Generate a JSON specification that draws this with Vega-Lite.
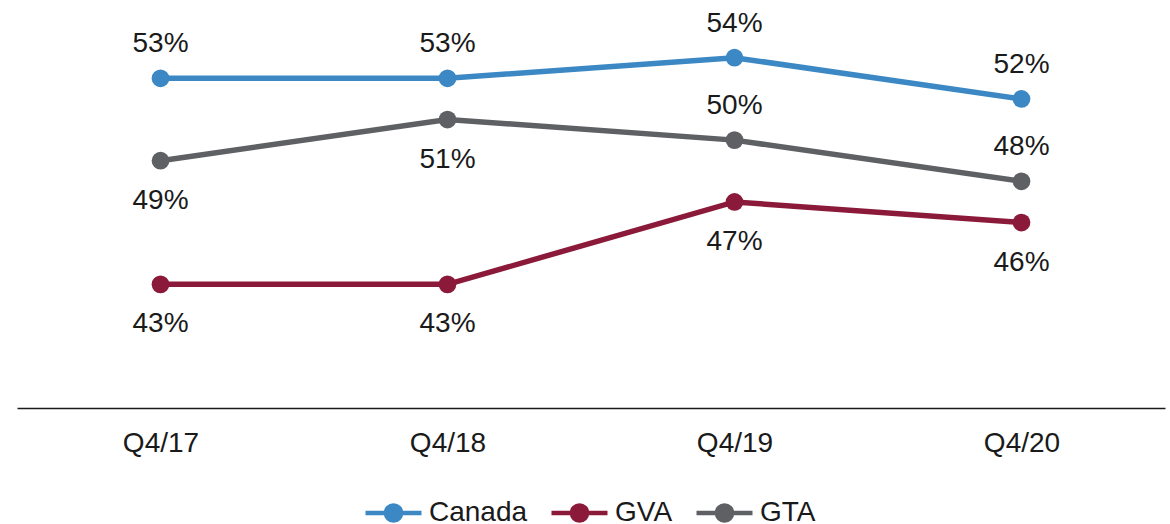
{
  "$schema": "https://vega.github.io/schema/vega-lite/v6.json",
  "width": 1148,
  "height": 408,
  "autosize": {"type": "none"},
  "padding": {"left": 17, "top": 0, "right": 5, "bottom": 116},
  "background": "white",
  "config": {
    "view": {"stroke": null},
    "font": "Liberation Sans",
    "legend": {
      "orient": "none",
      "legendX": 346,
      "legendY": 482,
      "direction": "horizontal",
      "title": null,
      "labelFontSize": 28,
      "labelFont": "Liberation Sans",
      "labelColor": "#1a1a1a",
      "symbolType": "M-1,0L-0.27,0A0.27,0.27,0,1,1,0.27,0A0.27,0.27,0,1,1,-0.27,0M0.27,0L1,0",
      "symbolSize": 3136,
      "symbolStrokeWidth": 4.5,
      "columnPadding": 14,
      "labelOffset": 5
    }
  },
  "data": {
    "values": [
      {"quarter": "Q4/17", "series": "Canada", "value": 0.53},
      {"quarter": "Q4/18", "series": "Canada", "value": 0.53},
      {"quarter": "Q4/19", "series": "Canada", "value": 0.54},
      {"quarter": "Q4/20", "series": "Canada", "value": 0.52},
      {"quarter": "Q4/17", "series": "GVA", "value": 0.43},
      {"quarter": "Q4/18", "series": "GVA", "value": 0.43},
      {"quarter": "Q4/19", "series": "GVA", "value": 0.47},
      {"quarter": "Q4/20", "series": "GVA", "value": 0.46},
      {"quarter": "Q4/17", "series": "GTA", "value": 0.49},
      {"quarter": "Q4/18", "series": "GTA", "value": 0.51},
      {"quarter": "Q4/19", "series": "GTA", "value": 0.50},
      {"quarter": "Q4/20", "series": "GTA", "value": 0.48}
    ]
  },
  "encoding": {
    "x": {
      "field": "quarter",
      "type": "ordinal",
      "scale": {"type": "point", "padding": 0.5},
      "axis": {
        "title": null,
        "ticks": false,
        "labelAngle": 0,
        "labelFontSize": 28,
        "labelFont": "Liberation Sans",
        "labelColor": "#1a1a1a",
        "labelPadding": 21,
        "domainColor": "#1a1a1a",
        "domainOpacity": 1,
        "domainWidth": 1.5,
        "grid": false
      }
    },
    "y": {
      "field": "value",
      "type": "quantitative",
      "scale": {"domain": [0.37, 0.568], "nice": false, "zero": false},
      "axis": null
    },
    "color": {
      "field": "series",
      "type": "nominal",
      "scale": {"domain": ["Canada", "GVA", "GTA"], "range": ["#3b88c4", "#8b1a3a", "#5e6063"]},
      "legend": {
        "encode": {
          "symbols": {
            "update": {
              "stroke": {"scale": "color", "field": "value"},
              "fill": {"scale": "color", "field": "value"},
              "fillOpacity": {"value": 1},
              "strokeWidth": {"value": 4.5}
            }
          }
        }
      }
    }
  },
  "layer": [
    {"mark": {"type": "line", "strokeWidth": 5.5}},
    {"mark": {"type": "point", "filled": true, "size": 314, "opacity": 1}},
    {
      "transform": [{"filter": "datum.series === 'Canada' || (datum.series === 'GTA' && (datum.quarter === 'Q4/19' || datum.quarter === 'Q4/20'))"}],
      "mark": {"type": "text", "fontSize": 28, "baseline": "middle", "dy": -34, "color": "#1a1a1a"},
      "encoding": {"text": {"field": "value", "format": ".0%"}, "color": {"value": "#1a1a1a"}}
    },
    {
      "transform": [{"filter": "datum.series === 'GVA' || (datum.series === 'GTA' && (datum.quarter === 'Q4/17' || datum.quarter === 'Q4/18'))"}],
      "mark": {"type": "text", "fontSize": 28, "baseline": "middle", "dy": 40, "color": "#1a1a1a"},
      "encoding": {"text": {"field": "value", "format": ".0%"}, "color": {"value": "#1a1a1a"}}
    }
  ]
}
